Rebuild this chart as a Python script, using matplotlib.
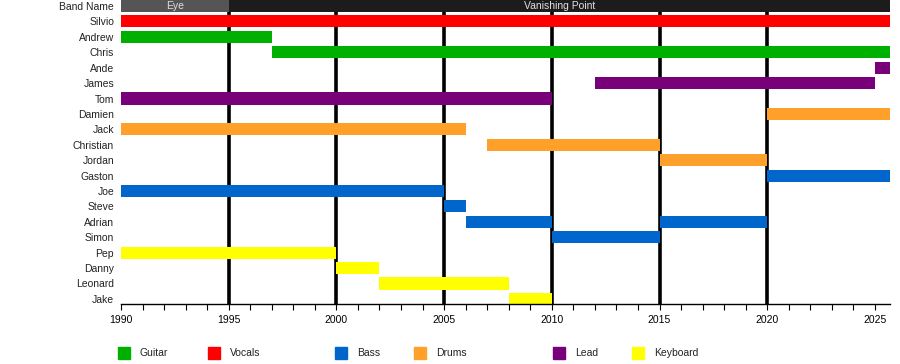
import matplotlib
matplotlib.use("Agg")
import matplotlib.pyplot as plt
from matplotlib.patches import Rectangle
from matplotlib.ticker import MultipleLocator

plt.rcParams['font.family'] = ['Liberation Sans', 'DejaVu Sans']

END = 2025.7

members = ["Silvio", "Andrew", "Chris", "Ande", "James", "Tom", "Damien", "Jack",
           "Christian", "Jordan", "Gaston", "Joe", "Steve", "Adrian", "Simon",
           "Pep", "Danny", "Leonard", "Jake"]

# (member, start, end, role)
periods = [
    ("Silvio", 1990, END, "Vocals"),
    ("Andrew", 1990, 1997, "Guitar"),
    ("Chris", 1997, END, "Guitar"),
    ("Ande", 2025, END, "Lead"),
    ("James", 2012, 2025, "Lead"),
    ("Tom", 1990, 2010, "Lead"),
    ("Damien", 2020, END, "Drums"),
    ("Jack", 1990, 2006, "Drums"),
    ("Christian", 2007, 2015, "Drums"),
    ("Jordan", 2015, 2020, "Drums"),
    ("Gaston", 2020, END, "Bass"),
    ("Joe", 1990, 2005, "Bass"),
    ("Steve", 2005, 2006, "Bass"),
    ("Adrian", 2006, 2010, "Bass"),
    ("Adrian", 2015, 2020, "Bass"),
    ("Simon", 2010, 2015, "Bass"),
    ("Pep", 1990, 2000, "Keyboard"),
    ("Danny", 2000, 2002, "Keyboard"),
    ("Leonard", 2002, 2008, "Keyboard"),
    ("Jake", 2008, 2010, "Keyboard"),
]

band_names = ["Eye", "Vanishing Point"]
band_starts = [1990, 1995]
band_ends = [1995, END]
band_colors = ["#555555", "#1c1c1c"]

roles = ["Guitar", "Vocals", "Bass", "Drums", "Lead", "Keyboard"]
role_colors = {"Guitar": "#00b000", "Vocals": "#ff0000", "Bass": "#0066cc",
               "Drums": "#ffa02a", "Lead": "#780078", "Keyboard": "#ffff00"}

line_years = [1995, 2000, 2005, 2010, 2015, 2020]

fig = plt.figure(figsize=(9, 3.64), dpi=100)
ax = fig.add_axes([121/900, 60/364, (890-121)/900, 304/364])

rows = ["Band Name"] + members
ypos = {name: i for i, name in enumerate(rows)}
h = 0.78

for yr in line_years:
    ax.axvline(yr, color="black", lw=2.6, zorder=1)

for name, s, e, c in zip(band_names, band_starts, band_ends, band_colors):
    ax.barh(0, e - s, left=s, height=h, color=c, zorder=2)
    ax.text((s + e) / 2, 0, name, ha="center", va="center", color="#e0e0e0", fontsize=7.5, zorder=3)

for m, s, e, r in periods:
    ax.barh(ypos[m], e - s, left=s, height=h, color=role_colors[r], zorder=2)

ax.set_xlim(1990, END)
ax.set_ylim(19.33, -0.39)
ax.set_yticks(range(len(rows)))
ax.set_yticklabels(rows, fontsize=7.5, color="#222222")
ax.tick_params(axis="y", length=0, pad=5)
ax.xaxis.set_major_locator(MultipleLocator(5))
ax.xaxis.set_minor_locator(MultipleLocator(1))
ax.tick_params(axis="x", which="both", length=4, width=0.8, labelsize=7.5, colors="black", pad=4)
for sp in ["top", "right", "left"]:
    ax.spines[sp].set_visible(False)
ax.spines["bottom"].set_linewidth(1)

legend_sq_x = [118, 208, 335, 414, 553, 632]
for r, x in zip(roles, legend_sq_x):
    fig.add_artist(Rectangle((x/900, (364-359)/364), 12/900, 12/364,
                             transform=fig.transFigure, color=role_colors[r]))
    fig.text((x + 22)/900, (364-353.5)/364, r, ha="left", va="center", fontsize=7.5, color="#222222")

fig.savefig("out.png", dpi=100)
